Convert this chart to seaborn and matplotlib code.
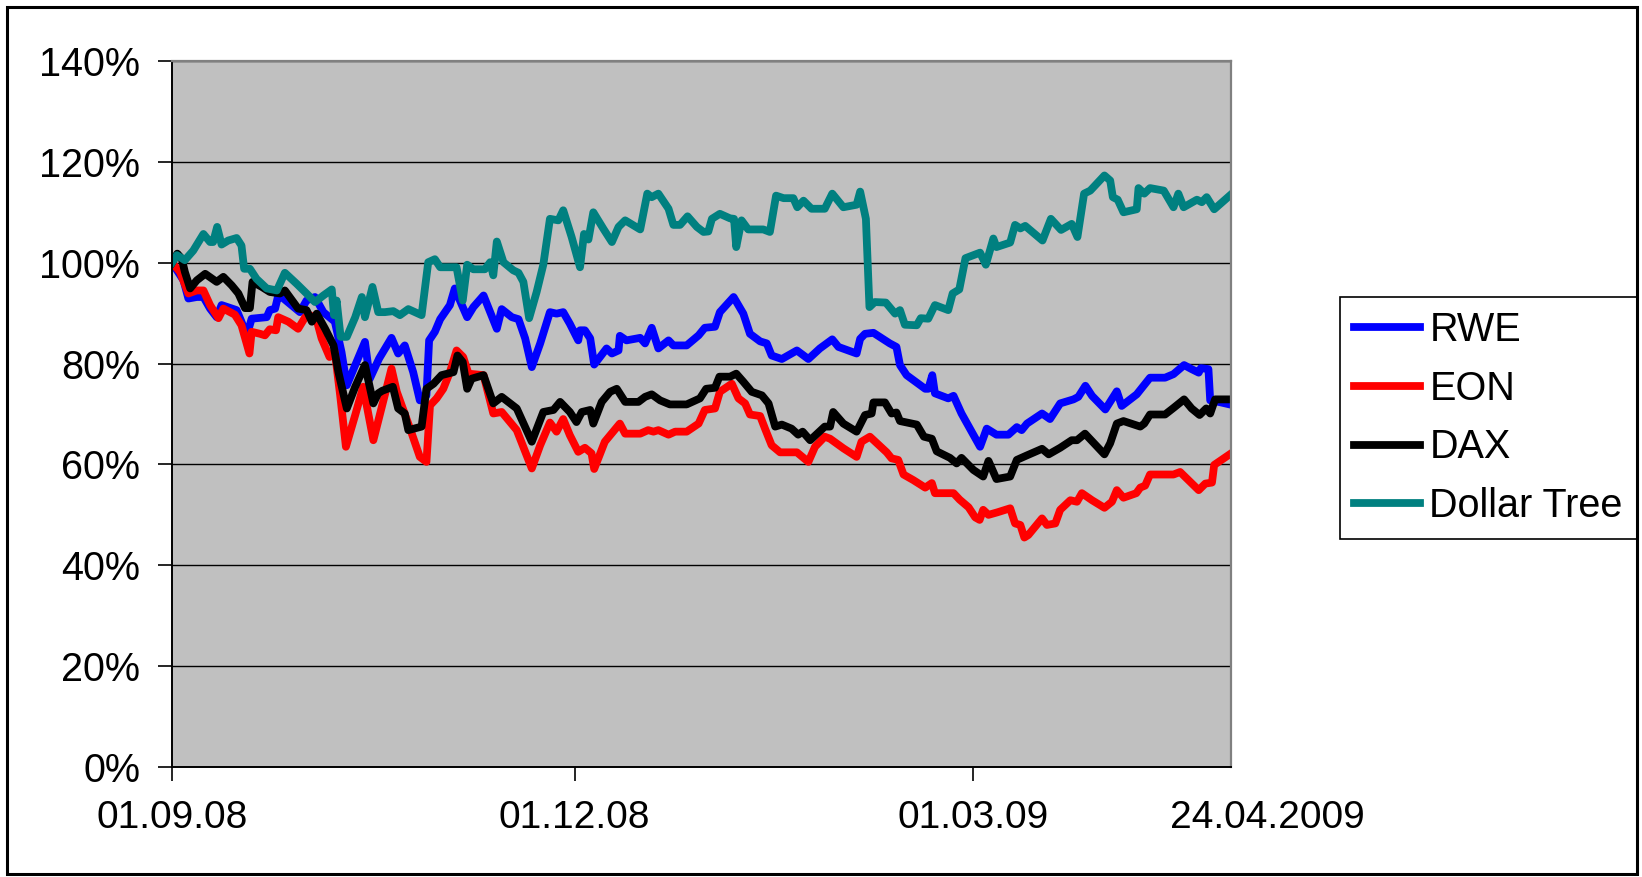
import matplotlib
matplotlib.use('Agg')
import matplotlib.pyplot as plt
import seaborn as sns
import pandas as pd
from matplotlib.patches import Rectangle
from matplotlib.ticker import FuncFormatter

# ---------------- data (x = days since 01.09.2008, y = % of start value) -------------
rwe_days = [0, 2.6, 3.7, 5.6, 7.1, 8.6, 10.1, 11.2, 14.6, 15.7, 16.9, 18.0, 21.4, 22.1, 23.3,
            24.0, 25.2, 28.9, 30.4, 32.3, 34.2, 36.8, 38.3, 39.5, 41.4, 43.6, 44.7, 46.8, 49.6,
            51.1, 52.6, 54.5, 56.0, 57.5, 58.1, 59.4, 60.6, 62.8, 63.9, 65.5, 66.7, 68.1, 70.4,
            71.9, 73.4, 74.5, 76.8, 78.3, 79.8, 81.3, 83.2, 85.4, 86.9, 88.4, 89.9, 91.8, 92.2,
            93.3, 94.5, 95.4, 98.2, 99.4, 100.9, 101.2, 102.7, 105.8, 106.9, 108.4, 109.9, 112.2,
            113.3, 116.3, 119.0, 120.4, 122.7, 123.8, 126.9, 129.1, 130.6, 132.9, 134.4, 135.5,
            137.8, 141.2, 143.8, 146.4, 149.2, 150.6, 154.7, 155.5, 156.6, 158.5, 162.2, 163.7,
            164.5, 166.0, 170.2, 170.9, 171.8, 172.4, 175.4, 176.6, 178.4, 182.6, 184.1, 186.3,
            189.0, 190.9, 192.0, 193.2, 196.6, 198.4, 200.7, 203.7, 204.8, 206.4, 207.9, 210.9,
            213.5, 214.6, 218.0, 221.0, 224.4, 226.3, 228.7, 230.4, 232.0, 232.5, 234.2, 234.6,
            236.5, 239]
rwe_vals = [100, 96.5, 92.9, 93.2, 93.2, 90.9, 89.2, 91.6, 90.6, 88.3, 85.6, 88.9, 89.2, 90.6, 90.9,
            93.5, 92.9, 90.2, 92.5, 93.2, 90.2, 88.3, 82.3, 75.7, 79.7, 84.3, 77.0, 81.0, 85.1,
            82.0, 83.6, 78.3, 72.7, 73.7, 84.6, 86.3, 88.8, 91.6, 94.9, 91.6, 89.2, 91.2, 93.5,
            90.2, 86.9, 90.8, 89.2, 88.8, 85.0, 79.3, 84.0, 90.2, 89.9, 90.2, 87.9, 84.6, 86.6,
            86.6, 85.0, 79.8, 83.0, 82.0, 82.6, 85.5, 84.6, 85.1, 84.0, 87.1, 83.0, 84.6,
            83.6, 83.6, 85.6, 87.1, 87.3, 90.2, 93.2, 89.9, 85.9, 84.4, 84.0, 81.6,
            80.9, 82.6, 80.9, 83.0, 84.8, 83.3, 82.0, 84.9, 85.9, 86.1, 84.0, 83.3,
            79.7, 77.7, 75.0, 75.0, 77.7, 74.1, 73.1, 73.6, 70.1, 63.5, 67.1, 65.9,
            65.9, 67.4, 66.8, 68.1, 70.1, 69.0, 72.1, 72.9, 73.4, 75.6, 73.6, 70.9,
            74.5, 71.6, 73.9, 77.2, 77.2, 77.9, 79.7, 78.9, 78.2, 79.1, 78.9, 72.7,
            72.4, 71.9]

eon_days = [0, 1.8, 3.7, 5.6, 7.1, 8.6, 10.5, 11.6, 14.2, 15.7, 17.5, 18.0, 19.9, 21.0, 22.1,
            23.5, 24.0, 26.3, 28.5, 30.1, 31.2, 32.7, 33.8, 35.6, 36.8, 38.0, 39.3, 41.4, 43.2,
            45.5, 47.3, 49.6, 50.8, 53.8, 56.0, 57.5, 58.3, 59.8, 61.3, 62.8, 64.3, 65.8, 67.0,
            70.4, 72.6, 74.5, 77.9, 81.3, 83.2, 85.4, 86.9, 88.4, 89.9, 91.8, 93.3, 94.8, 95.4,
            97.8, 99.7, 101.2, 102.4, 105.8, 107.6, 108.8, 109.9, 112.2, 113.7, 116.3, 119.0,
            120.4, 122.7, 123.8, 126.5, 128.0, 129.5, 130.6, 132.9, 134.0, 135.5, 137.4, 141.2,
            143.8, 145.3, 147.5, 148.7, 151.7, 154.7, 155.8, 157.7, 161.5, 162.6, 164.1, 165.3,
            167.5, 170.2, 171.7, 172.4, 176.6, 178.0, 180.0, 181.5, 182.5, 183.3, 184.5, 186.5,
            189.4, 190.5, 191.7, 192.6, 193.5, 196.6, 197.7, 199.6, 200.7, 203.0, 204.5, 205.6,
            207.9, 210.7, 212.4, 213.5, 215.0, 217.9, 218.8, 219.9, 221.0, 226.3, 227.8, 232.0,
            233.5, 235.0, 235.5, 239]
eon_vals = [100, 98.2, 93.9, 94.5, 94.5, 91.6, 89.0, 90.9, 89.7, 87.6, 82.0, 86.3, 85.9, 85.6, 86.8,
            86.6, 89.2, 88.3, 86.9, 89.2, 89.6, 88.6, 85.0, 81.3, 82.3, 73.7, 63.5, 69.8, 75.4,
            64.8, 71.0, 79.0, 74.4, 67.1, 61.5, 60.5, 71.7, 73.1, 75.0, 78.3, 82.6, 81.3, 78.0,
            77.7, 70.1, 70.4, 66.8, 59.2, 63.8, 68.3, 66.5, 69.0, 65.8, 62.5, 63.3, 62.2, 59.1,
            64.5, 66.5, 68.1, 66.1, 66.1, 66.8, 66.5, 66.8, 65.9, 66.5, 66.5, 68.1,
            70.8, 71.1, 74.4, 76.0, 73.1, 72.1, 69.9, 69.6, 67.1, 63.8, 62.4, 62.4,
            60.5, 63.5, 65.5, 65.1, 63.2, 61.5, 64.5, 65.5, 62.4, 61.2, 60.9, 58.0,
            56.9, 55.4, 56.3, 54.3, 54.3, 53.0, 51.5, 49.5, 49.0, 51.0, 50.0, 50.5,
            51.3, 48.3, 48.0, 45.5, 46.0, 49.3, 48.0, 48.3, 51.0, 52.9, 52.6, 54.3,
            52.9, 51.4, 52.6, 54.9, 53.4, 54.3, 55.4, 55.8, 58.0, 58.0, 58.5, 54.9,
            56.2, 56.4, 59.9, 62.0]

dax_days = [0, 1.2, 2.2, 2.9, 4.1, 5.6, 7.5, 10.1, 11.6, 13.5, 15.0, 16.5, 17.6, 18.2, 20.3,
            22.1, 24.4, 25.5, 28.5, 30.4, 31.6, 32.7, 34.6, 36.5, 37.6, 39.5, 41.4, 43.6, 45.5,
            46.6, 47.5, 49.9, 51.1, 52.6, 53.4, 56.4, 57.5, 59.1, 60.9, 63.6, 64.5, 65.7, 66.7,
            67.7, 70.4, 72.6, 74.5, 77.9, 81.3, 83.9, 86.2, 87.7, 89.9, 91.4, 92.6, 94.5, 95.2,
            97.1, 99.0, 100.5, 102.4, 105.4, 106.9, 108.4, 110.3, 112.5, 116.3, 119.3, 120.7,
            122.7, 123.7, 126.1, 127.5, 129.1, 131.0, 133.3, 134.8, 136.3, 137.8, 140.0, 141.5,
            142.5, 144.2, 147.5, 148.7, 149.4, 151.7, 154.7, 156.6, 158.1, 158.5, 161.1, 162.6,
            163.7, 164.5, 168.3, 169.9, 171.7, 172.8, 175.8, 177.3, 178.4, 181.1, 183.3, 184.5,
            186.3, 189.4, 190.9, 193.2, 196.6, 198.1, 200.7, 203.3, 204.5, 206.3, 210.7, 212.0,
            213.5, 215.0, 218.8, 219.7, 221.0, 224.4, 226.3, 228.7, 230.4, 232.2, 233.7, 234.6,
            235.7, 239]
dax_vals = [100, 101.8, 100.8, 98.2, 94.9, 96.5, 97.8, 96.2, 97.2, 95.5, 93.9, 91.0, 91.0, 96.2, 95.2,
            94.2, 93.9, 94.5, 90.9, 90.6, 88.3, 89.9, 86.9, 83.6, 78.3, 71.1, 75.4, 79.7, 72.1,
            74.1, 74.6, 75.4, 71.1, 70.1, 66.8, 67.5, 75.0, 76.0, 77.7, 78.3, 81.6, 80.3, 75.0,
            77.0, 77.7, 72.1, 73.4, 71.1, 64.5, 70.4, 70.8, 72.4, 70.4, 68.4, 70.4, 70.8, 68.1,
            72.4, 74.4, 75.0, 72.4, 72.4, 73.4, 73.9, 72.7, 71.9, 71.9, 73.1, 75.0,
            75.2, 77.4, 77.4, 78.0, 76.4, 74.4, 73.7, 72.1, 67.5, 67.9, 67.1, 65.9,
            66.5, 64.8, 67.5, 67.5, 70.4, 68.1, 66.5, 69.8, 70.1, 72.3, 72.3, 70.1,
            70.3, 68.6, 67.9, 65.5, 65.1, 62.6, 61.3, 60.2, 61.3, 58.9, 57.6, 60.7,
            57.1, 57.6, 60.9, 61.8, 63.1, 62.0, 63.3, 64.8, 64.8, 66.1, 62.0, 64.2,
            68.1, 68.6, 67.5, 68.1, 69.9, 69.9, 71.2, 72.9, 71.1, 69.8, 71.1, 70.1,
            72.9, 72.9]

dltr_days = [0, 1.1, 2.9, 4.8, 7.1, 8.6, 9.3, 10.2, 11.2, 12.7, 14.6, 15.7, 16.3, 17.6, 19.1,
             21.4, 23.7, 25.5, 28.2, 30.4, 32.3, 34.2, 36.1, 36.6, 37.2, 38.1, 39.5, 41.4, 42.9,
             43.6, 45.3, 46.6, 48.1, 50.0, 51.5, 53.4, 56.4, 57.9, 59.4, 60.6, 64.3, 65.7, 66.7,
             68.1, 70.7, 71.9, 72.6, 73.4, 74.9, 77.1, 78.3, 79.4, 80.7, 82.4, 83.9, 85.4, 87.3,
             88.4, 90.3, 92.2, 93.1, 94.1, 95.2, 97.5, 99.4, 100.9, 102.4, 105.8, 107.4, 108.4,
             109.9, 112.2, 113.3, 114.8, 116.5, 118.6, 120.1, 121.2, 122.0, 123.8, 126.1, 127.0,
             127.5, 128.7, 130.2, 133.6, 135.1, 136.5, 138.2, 140.4, 141.3, 142.7, 144.5, 147.5,
             149.2, 151.7, 154.7, 155.5, 156.8, 157.6, 158.8, 161.3, 163.4, 164.5, 165.6, 168.3,
             169.2, 170.9, 172.4, 175.4, 176.4, 177.9, 179.3, 182.6, 183.9, 185.6, 186.3, 189.4,
             190.5, 191.7, 192.8, 196.7, 198.6, 200.9, 203.3, 204.6, 206.1, 207.5, 210.7, 212.0,
             212.6, 213.7, 215.0, 218.0, 218.4, 219.7, 221.0, 224.1, 226.3, 227.4, 228.6, 231.6,
             232.7, 233.8, 235.5, 239]
dltr_vals = [100, 101.5, 100.5, 102.4, 105.7, 104.1, 104.1, 107.1, 103.6, 104.4, 104.9, 103.4, 98.8, 98.8, 96.8,
             94.9, 94.5, 98.0, 95.8, 93.9, 92.2, 93.5, 94.7, 89.6, 92.5, 85.3, 85.3, 89.2, 93.2,
             89.2, 95.2, 90.2, 90.2, 90.4, 89.6, 90.8, 89.6, 100.1, 100.7, 99.1, 99.1, 92.5, 99.6,
             98.7, 98.7, 100.1, 97.5, 104.2, 100.1, 98.5, 98.0, 96.2, 89.0, 94.2, 99.6, 108.7, 108.4,
             110.4, 105.1, 99.1, 105.7, 104.6, 110.0, 106.7, 104.1, 107.1, 108.4, 106.6, 113.7, 113.0,
             113.7, 110.7, 107.5, 107.5, 109.2, 107.1, 106.1, 106.2, 108.7, 109.7, 108.8, 108.7,
             103.1, 108.4, 106.6, 106.6, 106.1, 113.3, 112.8, 112.8, 111.0, 112.3, 110.7, 110.7,
             113.7, 111.0, 111.5, 114.1, 108.7, 91.2, 92.2, 92.1, 89.9, 90.6, 87.7, 87.6,
             89.0, 88.9, 91.6, 90.6, 93.9, 94.7, 100.9, 102.0, 99.6, 104.8, 103.1, 104.0,
             107.5, 106.8, 107.3, 104.4, 108.7, 106.5, 107.7, 105.1, 113.7, 114.3, 117.3, 116.3,
             113.0, 112.5, 110.0, 110.6, 114.8, 113.7, 114.8, 114.3, 111.0, 113.7, 111.0, 112.5,
             112.0, 113.0, 110.6, 113.3]

series_names = ['RWE', 'EON', 'DAX', 'Dollar Tree']
series_colors = ['#0000FF', '#FF0000', '#000000', '#008080']
x_tick_days = [0, 91, 181]
x_tick_labels = ['01.09.08', '01.12.08', '01.03.09']
end_label = '24.04.2009'
y_ticks = [0, 20, 40, 60, 80, 100, 120, 140]

# ---------------- figure ----------------
plt.rcParams['font.family'] = ['Liberation Sans', 'DejaVu Sans']
W, H = 1642, 877
fig = plt.figure(figsize=(W / 100, H / 100), dpi=100)
fig.patch.set_facecolor('white')
ax = fig.add_axes([172 / W, 1 - 767 / H, (1231 - 172) / W, (767 - 61) / H])
ax.set_facecolor('#C0C0C0')

all_days = [rwe_days, eon_days, dax_days, dltr_days]
all_vals = [rwe_vals, eon_vals, dax_vals, dltr_vals]
for name, d, v, c in zip(series_names, all_days, all_vals, series_colors):
    df = pd.DataFrame({'day': d, 'value': v})
    sns.lineplot(data=df, x='day', y='value', ax=ax, color=c, linewidth=5.6,
                 label=name, estimator=None, sort=False)

ax.set_xlim(0, 239.3)
ax.set_ylim(0, 140)
ax.set_yticks(y_ticks)
ax.yaxis.set_major_formatter(FuncFormatter(lambda v, p: f'{v:.0f}%'))
ax.set_xticks(x_tick_days)
ax.set_xticklabels(x_tick_labels)
ax.set_xlabel('')
ax.set_ylabel('')
ax.yaxis.grid(True, color='black', linewidth=1.0)
ax.xaxis.grid(False)
ax.set_axisbelow(True)

for s in ['top', 'right']:
    ax.spines[s].set_color('#808080')
    ax.spines[s].set_linewidth(1.6)
for s in ['left', 'bottom']:
    ax.spines[s].set_color('black')
    ax.spines[s].set_linewidth(1.4)

ax.tick_params(axis='y', direction='out', length=10, width=1.2, labelsize=28.5, pad=13)
ax.tick_params(axis='x', direction='out', length=10, width=1.2, labelsize=28, pad=14)

leg = ax.legend(loc='upper left', bbox_to_anchor=(1340 / W, 1 - 297 / H),
                bbox_transform=fig.transFigure, frameon=True, fancybox=False,
                edgecolor='black', fontsize=28.5, handlelength=1.66, handletextpad=0.24,
                labelspacing=0.52, borderpad=0.36, borderaxespad=0)
leg.get_frame().set_linewidth(1.2)
leg.get_frame().set_facecolor('white')
leg.get_frame().set_alpha(1)

# outer chart border
fig.patches.append(Rectangle((7 / W, 3 / H), (1637 - 7) / W, (872 - 5) / H,
                             transform=fig.transFigure, fill=False, ec='black', lw=2.2))

# end date label aligned with the tick labels
fig.canvas.draw()
bb = ax.get_xticklabels()[0].get_window_extent()
fig.text(1267 / W, bb.y1 / fig.bbox.height, end_label, ha='center', va='top', fontsize=28)

fig.savefig('out.png', dpi=100)
